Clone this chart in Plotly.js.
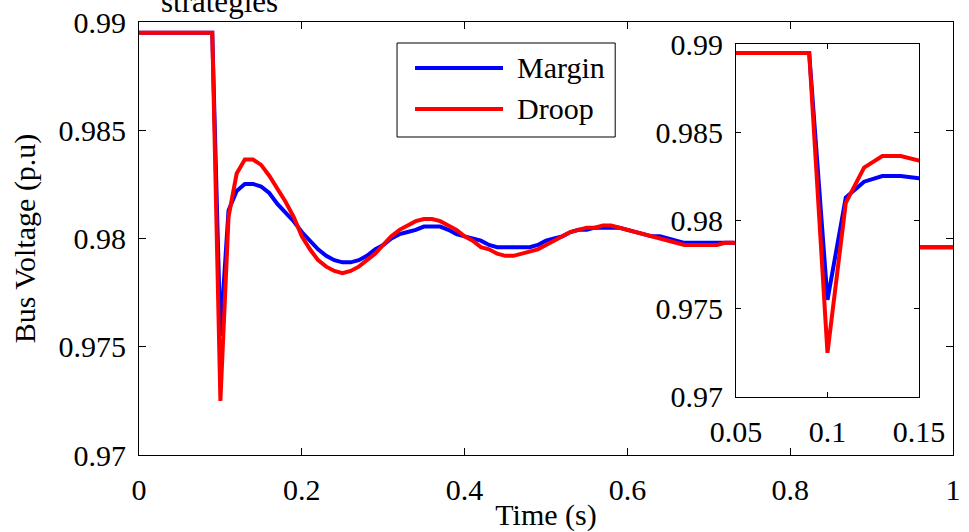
<!DOCTYPE html>
<html><head><meta charset="utf-8">
<script src="https://cdn.plot.ly/plotly-3.0.1.min.js"></script>
<style>html,body{margin:0;padding:0;background:#fff}#chart{width:969px;height:532px}</style>
</head><body><div id="chart"></div>
<script>
// Time (s)
const time = [0, 0.09,
  0.10, 0.11, 0.12, 0.13, 0.14, 0.15, 0.16, 0.17, 0.18, 0.19,
  0.20, 0.21, 0.22, 0.23, 0.24, 0.25, 0.26, 0.27, 0.28, 0.29,
  0.30, 0.31, 0.32, 0.33, 0.34, 0.35, 0.36, 0.37, 0.38, 0.39,
  0.40, 0.41, 0.42, 0.43, 0.44, 0.45, 0.46, 0.47, 0.48, 0.49,
  0.50, 0.51, 0.52, 0.53, 0.54, 0.55, 0.56, 0.57, 0.58, 0.59,
  0.60, 0.61, 0.62, 0.63, 0.64, 0.65, 0.66, 0.67, 0.68, 0.69,
  0.70, 0.71, 0.72, 0.73,
  0.80, 0.90, 1.00];
// Bus voltage (p.u) with margin control
const marginV = [0.9895, 0.9895,
  0.9755, 0.9813, 0.9822, 0.98252, 0.98252, 0.9824, 0.9821, 0.9816, 0.9812, 0.9808,
  0.9803, 0.9799, 0.9795, 0.9792, 0.9790, 0.9789, 0.9789, 0.9790, 0.9792, 0.9795,
  0.9797, 0.9800, 0.9802, 0.9803, 0.9804, 0.98055, 0.98055, 0.98055, 0.9804, 0.9802,
  0.9801, 0.9800, 0.9799, 0.9797, 0.9796, 0.9796, 0.9796, 0.9796, 0.9796, 0.9797,
  0.9799, 0.9800, 0.9801, 0.9803, 0.9804, 0.9804, 0.9805, 0.9805, 0.9805, 0.9805,
  0.9804, 0.9803, 0.9802, 0.9801, 0.9801, 0.9800, 0.9799, 0.9798, 0.9798, 0.9798,
  0.9798, 0.9798, 0.9798, 0.9798,
  0.9796, 0.9796, 0.9796];
// Bus voltage (p.u) with droop control
const droopV = [0.9895, 0.9895,
  0.9725, 0.9810, 0.9830, 0.98365, 0.98365, 0.9834, 0.9829, 0.9823, 0.9817, 0.9810,
  0.9801, 0.9795, 0.9790, 0.9787, 0.9785, 0.9784, 0.9785, 0.9787, 0.9790, 0.9793,
  0.9797, 0.9801, 0.9804, 0.9806, 0.9808, 0.9809, 0.9809, 0.9808, 0.9806, 0.9804,
  0.9801, 0.9799, 0.9796, 0.9795, 0.9793, 0.9792, 0.9792, 0.9793, 0.9794, 0.9795,
  0.9797, 0.9799, 0.9801, 0.9803, 0.9804, 0.9805, 0.9805, 0.9806, 0.9806, 0.9805,
  0.9804, 0.9803, 0.9802, 0.9801, 0.9800, 0.9799, 0.9798, 0.9797, 0.9797, 0.9797,
  0.9797, 0.9797, 0.9798, 0.9798,
  0.9796, 0.9796, 0.9796];

const seriesNames = ['Margin', 'Droop'];
const seriesColors = ['#0000ff', '#ff0000'];

const xTickVals = [0, 0.2, 0.4, 0.6, 0.8, 1];
const xTickText = ['0', '0.2', '0.4', '0.6', '0.8', '1'];
const yTickVals = [0.97, 0.975, 0.98, 0.985, 0.99];
const yTickText = ['0.97', '0.975', '0.98', '0.985', '0.99'];
const insetXTickVals = [0.05, 0.1, 0.15];
const insetXTickText = ['0.05', '0.1', '0.15'];

const FONT = 'Liberation Serif';
const series = [marginV, droopV];

const traces = [];
series.forEach((v, i) => {
  traces.push({x: time, y: v, type: 'scatter', mode: 'lines', name: seriesNames[i],
    line: {color: seriesColors[i], width: 4}, xaxis: 'x', yaxis: 'y', showlegend: false});
});
series.forEach((v, i) => {
  traces.push({x: time, y: v, type: 'scatter', mode: 'lines', name: seriesNames[i],
    line: {color: seriesColors[i], width: 4}, xaxis: 'x2', yaxis: 'y2', showlegend: false});
});

const axBase = {showline: true, linecolor: '#000', linewidth: 1, mirror: 'ticks',
  ticks: 'inside', tickcolor: '#000', tickwidth: 1, showgrid: false, zeroline: false,
  tickfont: {family: FONT, size: 30, color: '#000'}};

// legend geometry (paper coords)
const lg = {x0: 0.317, x1: 0.585, y0: 0.7344, y1: 0.9515, lx0: 0.3391, lx1: 0.4472, tx: 0.4619, rows: [0.8938, 0.7991]};
const shapes = [{type: 'rect', xref: 'paper', yref: 'paper', x0: lg.x0, x1: lg.x1, y0: lg.y0, y1: lg.y1,
  line: {color: '#000', width: 1}, fillcolor: '#fff', layer: 'above'}];
const annotations = [{xref: 'paper', yref: 'paper', x: 0.0995, y: 1.003, xanchor: 'center', yanchor: 'bottom',
  text: 'strategies', showarrow: false, font: {family: FONT, size: 31, color: '#000'}}];
seriesNames.forEach((n, i) => {
  shapes.push({type: 'line', xref: 'paper', yref: 'paper', x0: lg.lx0, x1: lg.lx1, y0: lg.rows[i], y1: lg.rows[i],
    line: {color: seriesColors[i], width: 4}, layer: 'above'});
  annotations.push({xref: 'paper', yref: 'paper', x: lg.tx, y: lg.rows[i], xanchor: 'left', yanchor: 'middle',
    text: n, showarrow: false, font: {family: FONT, size: 30, color: '#000'}});
});

const layout = {
  width: 969, height: 532,
  margin: {l: 139, r: 16, t: 22, b: 77, pad: 0},
  paper_bgcolor: '#fff', plot_bgcolor: '#fff',
  font: {family: FONT, size: 30, color: '#000'},
  showlegend: false,
  xaxis: Object.assign({}, axBase, {domain: [0, 1], range: [0, 1], tickvals: xTickVals, ticktext: xTickText,
    ticklen: 7, ticklabelstandoff: 8, anchor: 'y',
    title: {text: 'Time (s)', font: {family: FONT, size: 30, color: '#000'}, standoff: 16}}),
  yaxis: Object.assign({}, axBase, {domain: [0, 1], range: [0.97, 0.99], tickvals: yTickVals, ticktext: yTickText,
    ticklen: 7, ticklabelstandoff: 6, anchor: 'x',
    title: {text: 'Bus Voltage (p.u)', font: {family: FONT, size: 30, color: '#000'}, standoff: 14}}),
  xaxis2: Object.assign({}, axBase, {domain: [0.7334, 0.9582], range: [0.05, 0.15], tickvals: insetXTickVals,
    ticktext: insetXTickText, ticklen: 5, ticklabelstandoff: 8, anchor: 'y2'}),
  yaxis2: Object.assign({}, axBase, {domain: [0.134, 0.949], range: [0.97, 0.99], tickvals: yTickVals,
    ticktext: yTickText, ticklen: 5, ticklabelstandoff: 6, anchor: 'x2'}),
  shapes: shapes,
  annotations: annotations
};

Plotly.newPlot('chart', traces, layout, {displayModeBar: false, staticPlot: true});
</script>
</body></html>
